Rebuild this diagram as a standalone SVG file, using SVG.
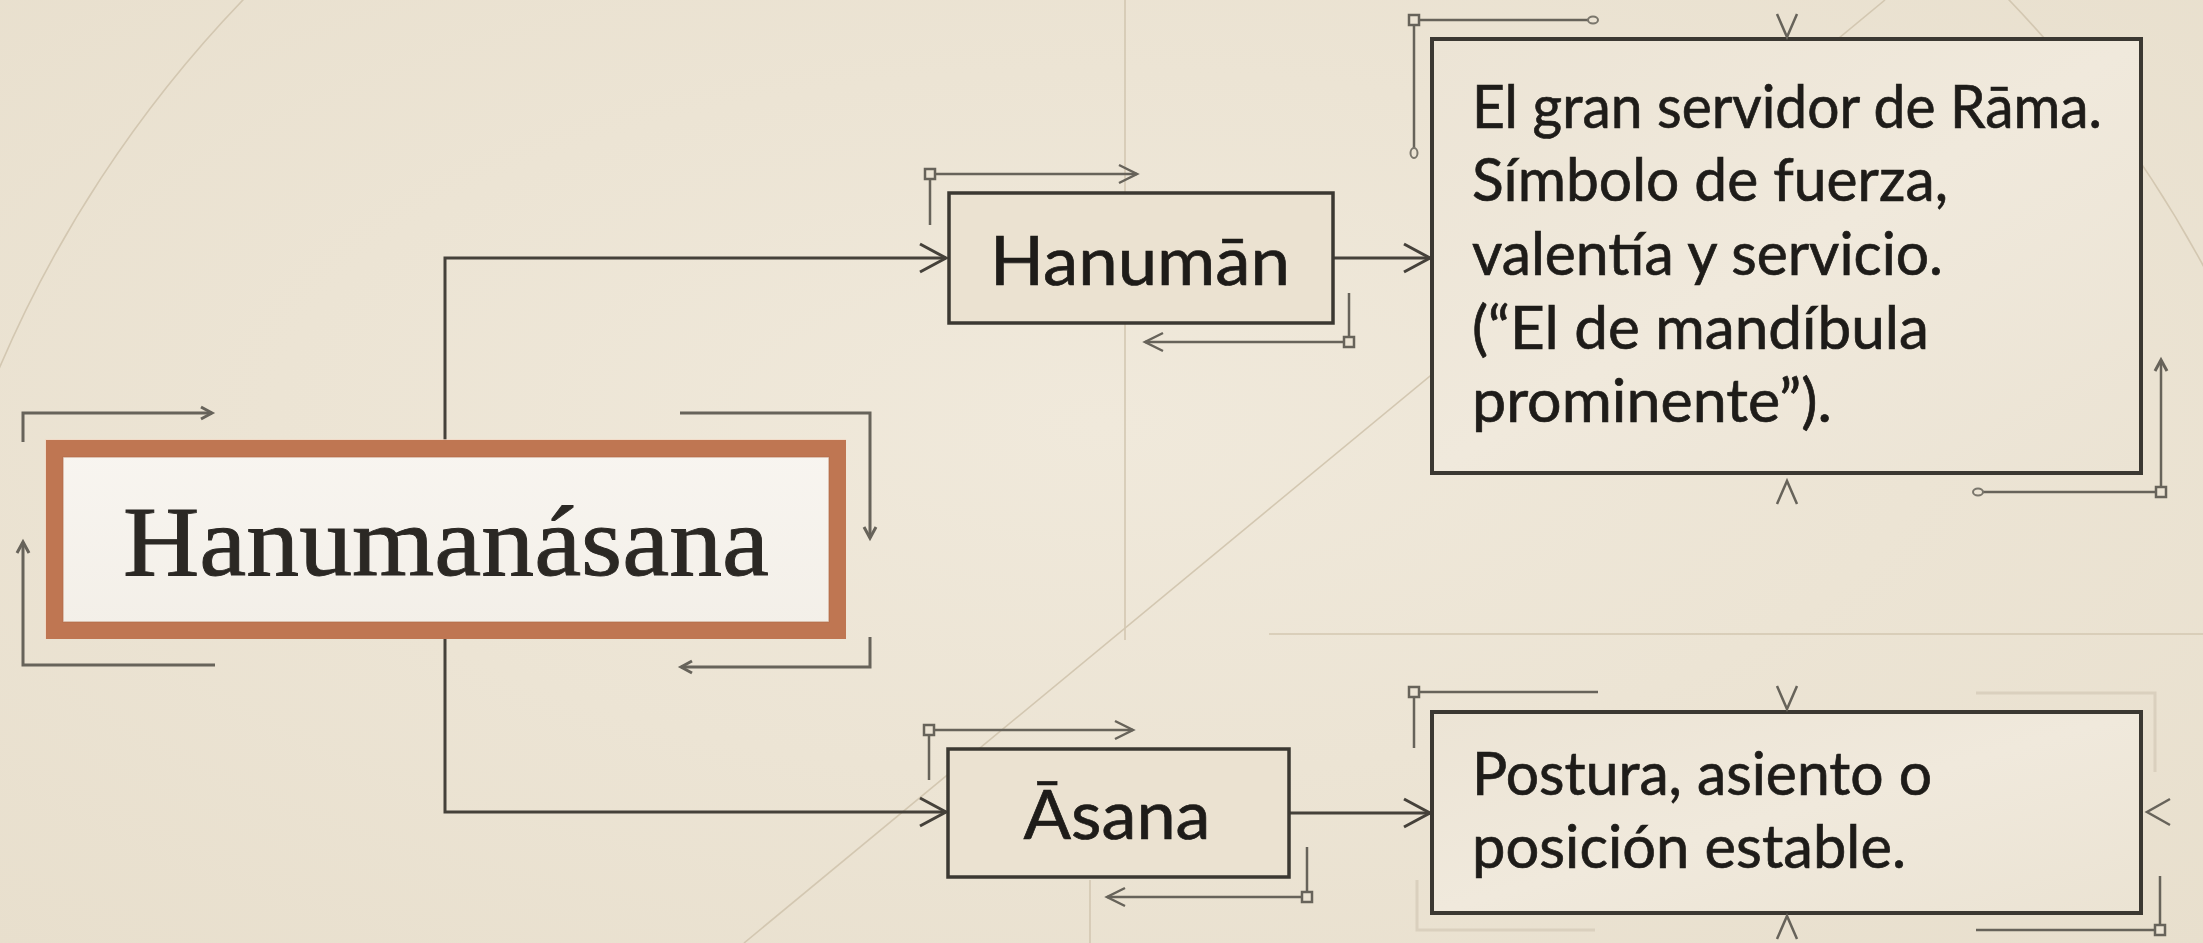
<svg xmlns="http://www.w3.org/2000/svg" width="2203" height="943" viewBox="0 0 2203 943">
  <defs>
    <radialGradient id="bg" cx="50%" cy="45%" r="75%">
      <stop offset="0" stop-color="#f0e9db"/>
      <stop offset="1" stop-color="#e8dfcd"/>
    </radialGradient>
    <linearGradient id="descFill" x1="0" y1="0" x2="1" y2="1">
      <stop offset="0" stop-color="#ece4d5"/>
      <stop offset="0.5" stop-color="#f0e9dc"/>
      <stop offset="1" stop-color="#ebe3d3"/>
    </linearGradient>
    <linearGradient id="mainFill" x1="0" y1="0" x2="0" y2="1">
      <stop offset="0" stop-color="#f8f5f0"/>
      <stop offset="1" stop-color="#f3efe8"/>
    </linearGradient>
    <marker id="chevL" markerUnits="userSpaceOnUse" viewBox="-30 -18 34 36" refX="0" refY="0" markerWidth="34" markerHeight="36" orient="auto" overflow="visible">
      <path d="M-26,-14 L0,0 L-26,14" fill="none" stroke="#45413a" stroke-width="3" stroke-linejoin="miter"/>
    </marker>
    <marker id="chevS" markerUnits="userSpaceOnUse" viewBox="-22 -12 26 24" refX="0" refY="0" markerWidth="26" markerHeight="24" orient="auto" overflow="visible">
      <path d="M-18,-9 L0,0 L-18,9" fill="none" stroke="#67635a" stroke-width="2.5"/>
    </marker>
    <marker id="chevXS" markerUnits="userSpaceOnUse" viewBox="-16 -10 20 20" refX="0" refY="0" markerWidth="20" markerHeight="20" orient="auto" overflow="visible">
      <path d="M-11,-6 L0,0 L-11,6" fill="none" stroke="#67635a" stroke-width="3"/>
    </marker>
    <marker id="dot" markerUnits="userSpaceOnUse" viewBox="-8 -8 16 16" refX="0" refY="0" markerWidth="16" markerHeight="16" orient="auto" overflow="visible">
      <ellipse cx="0" cy="0" rx="5" ry="3.5" fill="#ece4d4" stroke="#7a766c" stroke-width="2"/>
    </marker>
    <style>
      .bgline { fill: none; stroke: #d3c7b1; stroke-width: 1.6; }
      .faint { fill: none; stroke: #dad0be; stroke-width: 3; }
      .conn { fill: none; stroke: #45413a; stroke-width: 3; }
      .deco { fill: none; stroke: #67635a; stroke-width: 2.5; }
      .deco3 { fill: none; stroke: #67635a; stroke-width: 3; }
      .sq { fill: #ece4d4; stroke: #67635a; stroke-width: 2.5; }
      .box { fill: #ebe2d1; stroke: #3b3832; stroke-width: 3.5; }
      .desc { fill: url(#descFill); stroke: #3b3832; stroke-width: 4; }
      .serif { font-family: 'Liberation Serif', 'DejaVu Serif', serif; fill: #2b2824; stroke: #2b2824; stroke-width: 0.9; }
      .sans { font-family: Lato, 'Noto Sans', sans-serif; fill: #1e1c19; stroke: #1e1c19; stroke-width: 0.7; }
    </style>
  </defs>

  <rect x="0" y="0" width="2203" height="943" fill="url(#bg)"/>

  <g id="background">
    <circle class="bgline" cx="1126" cy="849" r="1225"/>
    <path class="bgline" d="M744,943 L1885,0"/>
    <path class="bgline" d="M1125,0 V640"/>
    <path class="bgline" d="M1090,880 V943"/>
    <path class="bgline" d="M1269,634 H2203" stroke-width="2.2"/>
  </g>

  <g id="connectors">
    <path class="conn" d="M445,440 V258 H946" marker-end="url(#chevL)"/>
    <path class="conn" d="M445,639 V812 H946" marker-end="url(#chevL)"/>
    <path class="conn" d="M1333,258 H1430" marker-end="url(#chevL)"/>
    <path class="conn" d="M1289,813 H1430" marker-end="url(#chevL)"/>
  </g>

  <g id="node-hanumanasana">
    <rect x="51" y="445" width="789" height="188" fill="none" stroke="#f2d6c2" stroke-width="12" opacity="0.7"/>
    <rect x="54.5" y="448.5" width="783" height="182" fill="url(#mainFill)" stroke="#bf7652" stroke-width="17"/>
    <rect x="63" y="457" width="766" height="165" fill="none" stroke="#b06a48" stroke-width="1.2" opacity="0.6"/>
    <text class="serif" x="446" y="575" font-size="100" text-anchor="middle" textLength="646" lengthAdjust="spacingAndGlyphs">Hanumanásana</text>
    <path class="deco3" d="M23,442 V413 H212" marker-end="url(#chevXS)"/>
    <path class="deco3" d="M215,665 H23 V542" marker-end="url(#chevXS)"/>
    <path class="deco3" d="M680,413 H870 V538" marker-end="url(#chevXS)"/>
    <path class="deco3" d="M870,637 V667 H681" marker-end="url(#chevXS)"/>
  </g>

  <g id="node-hanuman">
    <rect class="box" x="949" y="193" width="384" height="130"/>
    <text class="sans" x="1140" y="285" font-size="68" text-anchor="middle" textLength="300" lengthAdjust="spacingAndGlyphs">Hanumān</text>
    <path class="deco" d="M930,225 V174 H1137" marker-end="url(#chevS)"/>
    <rect class="sq" x="925" y="169" width="10" height="10"/>
    <path class="deco" d="M1349,293 V342 H1145" marker-end="url(#chevS)"/>
    <rect class="sq" x="1344" y="337" width="10" height="10"/>
  </g>

  <g id="node-asana">
    <rect class="box" x="948" y="749" width="341" height="128"/>
    <text class="sans" x="1117" y="839" font-size="68" text-anchor="middle" textLength="187" lengthAdjust="spacingAndGlyphs">Āsana</text>
    <path class="deco" d="M929,780 V730 H1133" marker-end="url(#chevS)"/>
    <rect class="sq" x="924" y="725" width="10" height="10"/>
    <path class="deco" d="M1307,847 V897 H1107" marker-end="url(#chevS)"/>
    <rect class="sq" x="1302" y="892" width="10" height="10"/>
  </g>

  <g id="node-desc-hanuman">
    <rect class="desc" x="1432" y="39" width="709" height="434"/>
    <text class="sans" font-size="60">
      <tspan x="1472" y="128" textLength="630" lengthAdjust="spacingAndGlyphs">El gran servidor de Rāma.</tspan>
      <tspan x="1472" y="201" textLength="476" lengthAdjust="spacingAndGlyphs">Símbolo de fuerza,</tspan>
      <tspan x="1472" y="275" textLength="471" lengthAdjust="spacingAndGlyphs">valentía y servicio.</tspan>
      <tspan x="1472" y="349" textLength="457" lengthAdjust="spacingAndGlyphs">(“El de mandíbula</tspan>
      <tspan x="1472" y="422" textLength="360" lengthAdjust="spacingAndGlyphs">prominente”).</tspan>
    </text>
    <path class="deco" d="M1593,20 H1414 V153" marker-start="url(#dot)" marker-end="url(#dot)"/>
    <rect class="sq" x="1409" y="15" width="10" height="10"/>
    <path class="deco" d="M1777,14 L1787,37 L1797,14"/>
    <path class="deco" d="M1777,504 L1787,481 L1797,504"/>
    <path class="deco" d="M1978,492 H2161 V360" marker-start="url(#dot)" marker-end="url(#chevXS)"/>
    <rect class="sq" x="2156" y="487" width="10" height="10"/>
  </g>

  <g id="node-desc-asana">
    <path class="faint" d="M1976,693 H2155 V772"/>
    <path class="faint" d="M1417,880 V930 H1595"/>
    <rect class="desc" x="1432" y="712" width="709" height="201"/>
    <text class="sans" font-size="60">
      <tspan x="1472" y="795" textLength="460" lengthAdjust="spacingAndGlyphs">Postura, asiento o</tspan>
      <tspan x="1472" y="868" textLength="434" lengthAdjust="spacingAndGlyphs">posición estable.</tspan>
    </text>
    <path class="deco" d="M1598,692 H1414 V748"/>
    <rect class="sq" x="1409" y="687" width="10" height="10"/>
    <path class="deco" d="M1777,686 L1787,709 L1797,686"/>
    <path class="deco" d="M1777,939 L1787,916 L1797,939"/>
    <path class="deco" d="M2170,799 L2147,812 L2170,825"/>
    <path class="deco" d="M2160,876 V930 H1976"/>
    <rect class="sq" x="2155" y="925" width="10" height="10"/>
  </g>
</svg>
